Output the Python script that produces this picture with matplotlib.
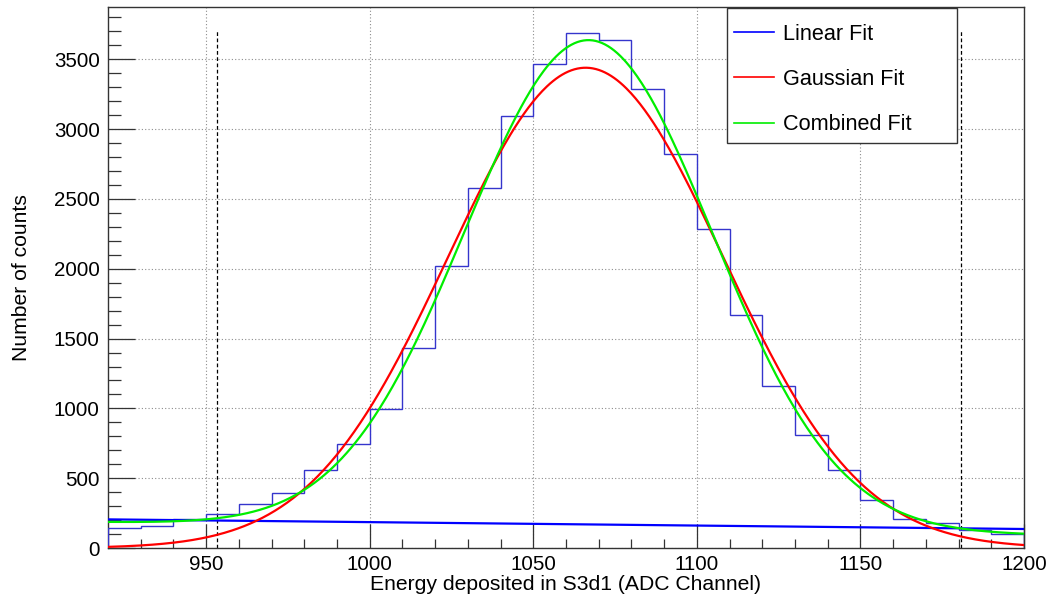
"""ROOT-style S3d1 energy spectrum with linear, gaussian and combined fits."""
import numpy as np
import matplotlib

matplotlib.use("Agg")
import matplotlib.pyplot as plt
from matplotlib.lines import Line2D
from matplotlib.patches import Rectangle

plt.rcParams["font.family"] = ["Liberation Sans", "DejaVu Sans"]

# histogram, 10-channel bins from 920 to 1200
bin_edges = list(range(920, 1201, 10))
counts = [143, 161, 211, 243, 314, 397, 557, 745, 997, 1436,
          2019, 2580, 3096, 3469, 3691, 3639, 3290, 2824, 2287, 1667,
          1163, 806, 560, 344, 208, 177, 127, 103]

# fit results
lin_p0, lin_p1 = 431.3, -0.246            # linear fit: p0 + p1*x
gaus_amp, gaus_mean, gaus_sigma = 3440.0, 1066.0, 42.0
comb_amp, comb_mean, comb_sigma = 3500.0, 1067.0, 37.9
comb_p0, comb_p1 = 480.7, -0.3214         # background of the combined fit

# +-3 sigma window markers
cut_lines = [953.3, 1180.6]
cut_top = 3700

x_ticks = [950, 1000, 1050, 1100, 1150, 1200]
y_ticks = [0, 500, 1000, 1500, 2000, 2500, 3000, 3500]
legend_labels = ["Linear Fit", "Gaussian Fit", "Combined Fit"]

fig = plt.figure(figsize=(10.52, 6.0), dpi=100)
ax = fig.add_axes([108 / 1052, 52 / 600, 916 / 1052, 541 / 600])

xs = np.linspace(920, 1200, 600)
lin = lin_p0 + lin_p1 * xs
gaus = gaus_amp * np.exp(-0.5 * ((xs - gaus_mean) / gaus_sigma) ** 2)
comb = comb_amp * np.exp(-0.5 * ((xs - comb_mean) / comb_sigma) ** 2) + comb_p0 + comb_p1 * xs

ax.stairs(counts, bin_edges, color="#3535cc", lw=1.0, zorder=3)
ax.plot(xs, lin, color="#0000ff", lw=1.6, zorder=4)
ax.plot(xs, gaus, color="#ff0000", lw=1.6, zorder=4)
ax.plot(xs, comb, color="#00ee00", lw=1.6, zorder=5)

for xc in cut_lines:
    ax.plot([xc, xc], [0, cut_top], color="black", lw=0.9, ls=(0, (3, 2)), zorder=2)

ax.set_xlim(920, 1200)
ax.set_ylim(0, 3875)
ax.set_xticks(x_ticks)
ax.set_xticks(range(930, 1200, 10), minor=True)
ax.set_yticks(y_ticks)
ax.set_yticks(range(100, 3876, 100), minor=True)

ax.grid(True, which="major", color="#8c8c8c", ls=(0, (1, 2)), lw=0.8)
ax.set_axisbelow(True)

ax.tick_params(axis="both", which="both", direction="in", top=False, right=False,
               labelsize=14.8, color="#333333")
ax.tick_params(axis="y", which="major", length=19.5, width=0.9, pad=6)
ax.tick_params(axis="y", which="minor", length=9.7, width=0.9)
ax.tick_params(axis="x", which="major", length=17, width=0.9, pad=5)
ax.tick_params(axis="x", which="minor", length=6.5, width=0.9)
for sp in ax.spines.values():
    sp.set_linewidth(1.0)
    sp.set_color("#333333")

ax.set_xlabel("Energy deposited in S3d1 (ADC Channel)", fontsize=15.2)
ax.set_ylabel("Number of counts", fontsize=15.2)
ax.xaxis.set_label_coords(0.5, -0.05)
ax.yaxis.set_label_coords(-0.084, 0.5)

# legend box drawn separately so the entries can be placed freely
box = Rectangle((0.6758, 0.7486), 0.2511, 0.2494, transform=ax.transAxes,
                facecolor="white", edgecolor="#333333", lw=1.0, zorder=6)
ax.add_patch(box)
handles = [Line2D([], [], color="#0000ff", lw=1.2),
           Line2D([], [], color="#ff0000", lw=1.2),
           Line2D([], [], color="#00ee00", lw=1.2)]
leg = ax.legend(handles, legend_labels, loc="upper left",
                bbox_to_anchor=(0.6834, 0.9686), fontsize=15.6, frameon=False,
                borderpad=0.0, borderaxespad=0.0, handlelength=1.85,
                handletextpad=0.42, labelspacing=1.11)
leg.set_zorder(7)

fig.savefig("out.png", dpi=100)
